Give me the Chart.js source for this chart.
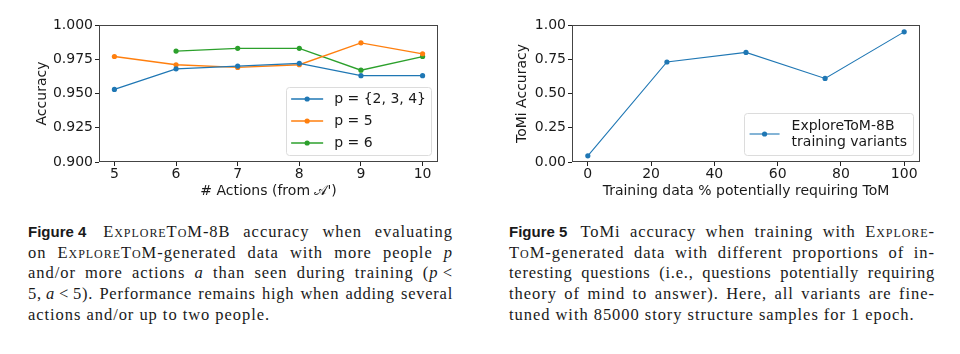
<!DOCTYPE html>
<html>
<head>
<meta charset="utf-8">
<script src="https://cdn.jsdelivr.net/npm/chart.js@4/dist/chart.umd.min.js"></script>
<style>
  body { margin: 0; width: 960px; height: 354px; background: #fff; position: relative; overflow: hidden; }
  canvas { position: absolute; top: 0; }
  .cap { position: absolute; top: 222px; font-family: "Liberation Serif", serif; font-size: 16.5px; line-height: 20.7px; color: #1a1a1a; letter-spacing: 0.95px; }
  .cap div { text-align: justify; text-align-last: justify; white-space: nowrap; }
  .cap div.last { text-align-last: left; }
  .cap div.tight { letter-spacing: 0.75px; }
  .cap b { display: inline-block; font-family: "Liberation Sans", sans-serif; font-size: 15px; letter-spacing: 0; margin-right: 4px; }
  .sc { font-variant: small-caps; }
</style>
</head>
<body>
<canvas id="fig4" width="480" height="200" style="left:0"></canvas>
<canvas id="fig5" width="480" height="200" style="left:480px"></canvas>

<div class="cap" style="left:28px;width:425px">
  <div><b>Figure&nbsp;4</b> <span class="sc">ExploreToM</span>-8B accuracy when evaluating</div>
  <div>on <span class="sc">ExploreToM</span>-generated data with more people <i>p</i></div>
  <div>and/or more actions <i>a</i> than seen during training (<i>p</i>&thinsp;&lt;</div>
  <div class="tight">5,&thinsp;<i>a</i>&thinsp;&lt;&thinsp;5). Performance remains high when adding several</div>
  <div class="last">actions and/or up to two people.</div>
</div>

<div class="cap" style="left:509px;width:426px">
  <div><b>Figure&nbsp;5</b> ToMi accuracy when training with <span class="sc">Explore</span>-</div>
  <div><span class="sc">ToM</span>-generated data with different proportions of in-</div>
  <div class="tight">teresting questions (i.e., questions potentially requiring</div>
  <div>theory of mind to answer). Here, all variants are fine-</div>
  <div class="last">tuned with 85000 story structure samples for 1 epoch.</div>
</div>

<script>
// figure 4 data
const actions = [5, 6, 7, 8, 9, 10]
const accP234 = [0.953, 0.968, 0.970, 0.972, 0.963, 0.963]
const accP5 = [0.977, 0.971, 0.969, 0.971, 0.987, 0.979]
const accP6 = [null, 0.981, 0.983, 0.983, 0.967, 0.977]
const fig4YTicks = [0.900, 0.925, 0.950, 0.975, 1.000]

// figure 5 data
const tomPct = [0, 25, 50, 75, 100]
const tomiAcc = [0.045, 0.73, 0.80, 0.61, 0.95]
const fig5XTicks = [0, 20, 40, 60, 80, 100]
const fig5YTicks = [0.00, 0.25, 0.50, 0.75, 1.00]

const BLUE = '#1f77b4', ORANGE = '#ff7f0e', GREEN = '#2ca02c'
const FONT = 'DejaVu Sans'
const INK = '#1a1a1a'

const pts = (xs, ys) => xs.map((x, i) => ({x: x, y: ys[i]}))

// matplotlib-ish spines around the plot area
const frame = {
  id: 'frame',
  afterDatasetsDraw(chart) {
    const {ctx, chartArea: a} = chart
    ctx.save()
    ctx.strokeStyle = '#444'
    ctx.lineWidth = 1
    ctx.strokeRect(Math.round(a.left) + 0.5, Math.round(a.top) + 0.5,
      Math.round(a.right - a.left) - 1, Math.round(a.bottom - a.top) - 1)
    ctx.restore()
  }
}

// legend box in the lower right corner of the axes
const boxLegend = {
  id: 'boxLegend',
  afterDraw(chart, args, opts) {
    const {ctx, chartArea} = chart
    ctx.save()
    ctx.font = '14px "' + FONT + '"'
    const items = chart.data.datasets.map(ds => ({ds: ds, lines: ds.label.split('\n')}))
    let textW = 0
    items.forEach(it => it.lines.forEach(l => { textW = Math.max(textW, ctx.measureText(l).width) }))
    const rowsH = items.map(it => Math.max(it.lines.length * opts.lineHeight, opts.rowHeight))
    const w = opts.padX * 2 + opts.handle + opts.gap + textW
    const h = opts.padY * 2 + rowsH.reduce((s, v) => s + v, 0)
    const x = chartArea.right - opts.inset - w
    const y = chartArea.bottom - opts.inset - h

    ctx.beginPath()
    ctx.roundRect(Math.round(x) + 0.5, Math.round(y) + 0.5, Math.round(w), Math.round(h), 3)
    ctx.fillStyle = 'rgba(255,255,255,0.85)'
    ctx.fill()
    ctx.strokeStyle = '#dcdcdc'
    ctx.lineWidth = 1
    ctx.stroke()

    let cy = y + opts.padY
    items.forEach((it, i) => {
      const mid = cy + rowsH[i] / 2
      const hx = x + opts.padX
      ctx.strokeStyle = it.ds.borderColor
      ctx.lineWidth = it.ds.borderWidth
      ctx.beginPath()
      ctx.moveTo(hx, mid)
      ctx.lineTo(hx + opts.handle, mid)
      ctx.stroke()
      ctx.fillStyle = it.ds.backgroundColor
      ctx.beginPath()
      ctx.arc(hx + opts.handle / 2, mid, it.ds.pointRadius, 0, Math.PI * 2)
      ctx.fill()
      ctx.fillStyle = INK
      ctx.textBaseline = 'middle'
      ctx.textAlign = 'left'
      const ty = mid - (it.lines.length - 1) * opts.lineHeight / 2
      it.lines.forEach((l, k) => ctx.fillText(l, hx + opts.handle + opts.gap, ty + k * opts.lineHeight))
      cy += rowsH[i]
    })
    ctx.restore()
  }
}

const tickFont = {family: FONT, size: 14}

function axisX(min, max, tickVals, title, fmt) {
  return {
    type: 'linear', min: min, max: max,
    afterBuildTicks: s => { s.ticks = tickVals.map(v => ({value: v})) },
    afterFit: s => { s.height = 38 },
    grid: {drawOnChartArea: false, drawTicks: true, tickLength: 4, color: '#222'},
    border: {display: false},
    ticks: {font: tickFont, color: INK, padding: 0, maxRotation: 0, callback: fmt},
    title: {display: true, text: title, font: tickFont, color: INK, padding: {top: 0, bottom: 0}}
  }
}

function axisY(min, max, tickVals, width, title, digits) {
  return {
    min: min, max: max,
    afterBuildTicks: s => { s.ticks = tickVals.map(v => ({value: v})) },
    afterFit: s => { s.width = width },
    grid: {drawOnChartArea: false, drawTicks: true, tickLength: 4, color: '#222'},
    border: {display: false},
    ticks: {font: tickFont, color: INK, padding: 2, callback: v => Number(v).toFixed(digits)},
    title: {display: true, text: title, font: tickFont, color: INK, padding: {top: 34, bottom: 0}}
  }
}

function line(label, xs, ys, color, width, radius) {
  return {
    label: label, data: pts(xs, ys),
    borderColor: color, backgroundColor: color,
    borderWidth: width, pointRadius: radius, pointHoverRadius: radius,
    pointBorderWidth: 0, tension: 0, spanGaps: false
  }
}

new Chart(document.getElementById('fig4'), {
  type: 'line',
  data: {
    datasets: [
      line('p = {2, 3, 4}', actions, accP234, BLUE, 1.3, 2.6),
      line('p = 5', actions, accP5, ORANGE, 1.3, 2.6),
      line('p = 6', actions, accP6, GREEN, 1.3, 2.6)
    ]
  },
  options: {
    responsive: false, animation: false,
    layout: {padding: {left: 0, top: 25, right: 42, bottom: 0}},
    scales: {
      x: axisX(4.75, 10.25, actions, "# Actions (from \u{1D49C}')", v => v),
      y: axisY(0.9, 1.0, fig4YTicks, 99, 'Accuracy', 3)
    },
    plugins: {
      legend: {display: false}, tooltip: {enabled: false},
      boxLegend: {padX: 5, padY: 1, handle: 32, gap: 11, rowHeight: 22, lineHeight: 16, inset: 7}
    }
  },
  plugins: [frame, boxLegend]
})

new Chart(document.getElementById('fig5'), {
  type: 'line',
  data: {
    datasets: [
      line('ExploreToM-8B\ntraining variants', tomPct, tomiAcc, BLUE, 1.1, 2.6)
    ]
  },
  options: {
    responsive: false, animation: false,
    layout: {padding: {left: 0, top: 25, right: 40, bottom: 0}},
    scales: {
      x: axisX(-5, 105, fig5XTicks, 'Training data % potentially requiring ToM', v => v),
      y: axisY(0, 1, fig5YTicks, 92, 'ToMi Accuracy', 2)
    },
    plugins: {
      legend: {display: false}, tooltip: {enabled: false},
      boxLegend: {padX: 6, padY: 5, handle: 30, gap: 12, rowHeight: 22, lineHeight: 16, inset: 7}
    }
  },
  plugins: [frame, boxLegend]
})
</script>
</body>
</html>
